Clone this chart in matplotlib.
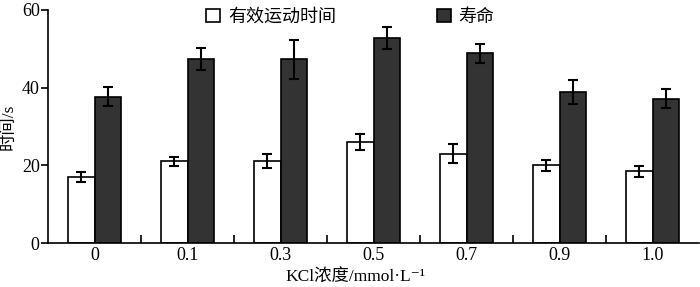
import matplotlib
matplotlib.use('Agg')
import matplotlib.pyplot as plt
import numpy as np

plt.rcParams['font.family'] = ['Liberation Serif', 'Noto Sans CJK SC', 'DejaVu Serif']

conc = ['0', '0.1', '0.3', '0.5', '0.7', '0.9', '1.0']
move_time = [17, 21, 21, 26, 23, 20, 18.5]
move_err = [1.2, 1.2, 1.8, 2.0, 2.4, 1.4, 1.4]
life = [37.7, 47.3, 47.3, 52.8, 48.8, 39, 37.2]
life_err = [2.4, 2.8, 5.0, 2.9, 2.4, 3.1, 2.4]
labels = ['有效运动时间', '寿命']


def main():
    fig = plt.figure(figsize=(7, 2.87), dpi=100)
    ax = fig.add_axes([48 / 700, 1 - 243 / 287, 651 / 700, 233 / 287])

    idx = np.arange(len(conc))
    w = 0.29
    ekw = dict(elinewidth=1.5, capthick=1.5, ecolor='black')
    ax.bar(idx - w / 2, move_time, w, yerr=move_err, capsize=3.5,
           color='white', edgecolor='black', linewidth=1.2,
           error_kw=ekw, label=labels[0])
    ax.bar(idx + w / 2, life, w, yerr=life_err, capsize=3.5,
           color='#333333', edgecolor='black', linewidth=1.2,
           error_kw=ekw, label=labels[1])

    ax.set_xlim(-0.5, len(conc) - 0.5)
    ax.set_ylim(0, 60)
    ax.set_yticks([0, 20, 40, 60])
    ax.set_xticks(idx)
    ax.set_xticklabels(conc)
    ax.tick_params(axis='x', length=0, labelsize=13, pad=3)
    ax.set_xticks(idx[:-1] + 0.5, minor=True)
    ax.tick_params(axis='x', which='minor', direction='in', length=6, width=1.2)
    ax.tick_params(axis='y', direction='out', length=5, width=1.2, labelsize=13, pad=1)

    for s in ['top', 'right']:
        ax.spines[s].set_visible(False)
    ax.spines['left'].set_linewidth(1.2)
    ax.spines['bottom'].set_linewidth(1.2)

    ax.set_ylabel('时间/s', fontsize=12.5, labelpad=4)
    fig.text(355 / 700, 1 - 282 / 287, 'KCl浓度/mmol·L⁻¹', fontsize=12.5,
             ha='center', va='baseline')

    fig.legend(loc='upper left', bbox_to_anchor=(190 / 700, 1.025), ncol=2,
               frameon=False, fontsize=13, handlelength=0.75, handleheight=0.75,
               handletextpad=0.45, columnspacing=5.6)

    fig.savefig('out.png', dpi=100)
    return 0


if __name__ == '__main__':
    main()
